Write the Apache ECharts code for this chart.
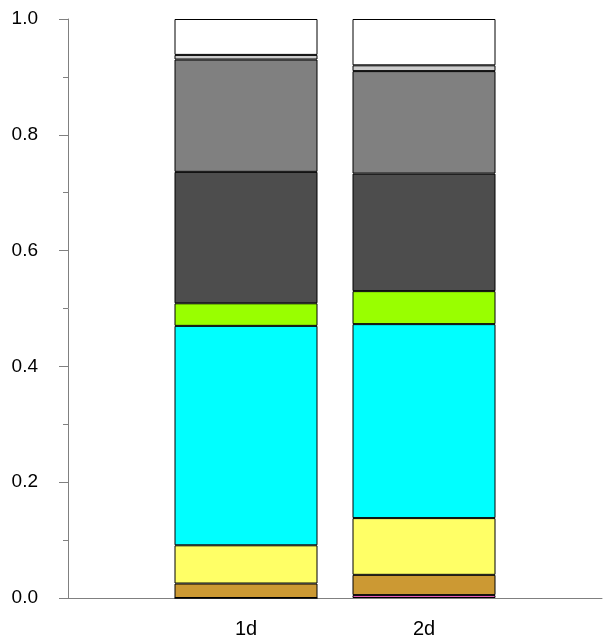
<!DOCTYPE html>
<html>
<head>
<meta charset="utf-8">
<script src="https://cdn.jsdelivr.net/npm/echarts@6/dist/echarts.min.js"></script>
<style>html,body{margin:0;padding:0;background:#fff;}#c{width:605px;height:641px;}</style>
</head>
<body>
<div id="c"></div>
<script>
var categories = ['1d', '2d'];
var seriesNames = ['pink', 'brown', 'yellow', 'cyan', 'green', 'darkgrey', 'midgrey', 'lightgrey', 'white'];
var seriesColors = ['#FF66CC', '#CC9933', '#FFFF66', '#00FFFF', '#99FF00', '#4D4D4D', '#808080', '#CCCCCC', '#FFFFFF'];
var pink      = [0.000, 0.005];
var brown     = [0.025, 0.035];
var yellow    = [0.066, 0.098];
var cyan      = [0.379, 0.335];
var green     = [0.039, 0.057];
var darkgrey  = [0.227, 0.203];
var midgrey   = [0.194, 0.177];
var lightgrey = [0.008, 0.010];
var white     = [0.062, 0.080];
var yTicks = [0, 0.2, 0.4, 0.6, 0.8, 1.0];

var values = [pink, brown, yellow, cyan, green, darkgrey, midgrey, lightgrey, white];
var axisCats = [''].concat(categories).concat(['']);

var chart = echarts.init(document.getElementById('c'), null, {renderer: 'canvas'});
var series = seriesNames.map(function (n, i) {
  return {
    name: n,
    type: 'bar',
    stack: 'total',
    barWidth: 143,
    data: [null].concat(values[i]).concat([null]),
    itemStyle: {color: seriesColors[i], borderColor: '#000', borderWidth: 1},
    emphasis: {disabled: true},
    animation: false
  };
});
chart.setOption({
  animation: false,
  grid: {left: 68, width: 540, top: 19, bottom: 43},
  xAxis: {
    type: 'category',
    data: axisCats,
    boundaryGap: false,
    axisLine: {lineStyle: {color: '#808080', width: 1}},
    axisTick: {show: false},
    axisLabel: {color: '#000', fontSize: 20, fontFamily: 'Liberation Sans, Arial, sans-serif', margin: 21, interval: 0}
  },
  yAxis: {
    type: 'value',
    min: 0,
    max: 1,
    interval: 0.2,
    splitLine: {show: false},
    axisLine: {show: true, lineStyle: {color: '#808080', width: 1}},
    axisTick: {show: true, length: 9, lineStyle: {color: '#808080'}},
    minorTick: {show: true, splitNumber: 2, length: 5, lineStyle: {color: '#808080'}},
    axisLabel: {
      color: '#000', fontSize: 19, fontFamily: 'Liberation Sans, Arial, sans-serif', margin: 30,
      formatter: function (v) { return v.toFixed(1); }
    }
  },
  series: series
});
</script>
</body>
</html>
